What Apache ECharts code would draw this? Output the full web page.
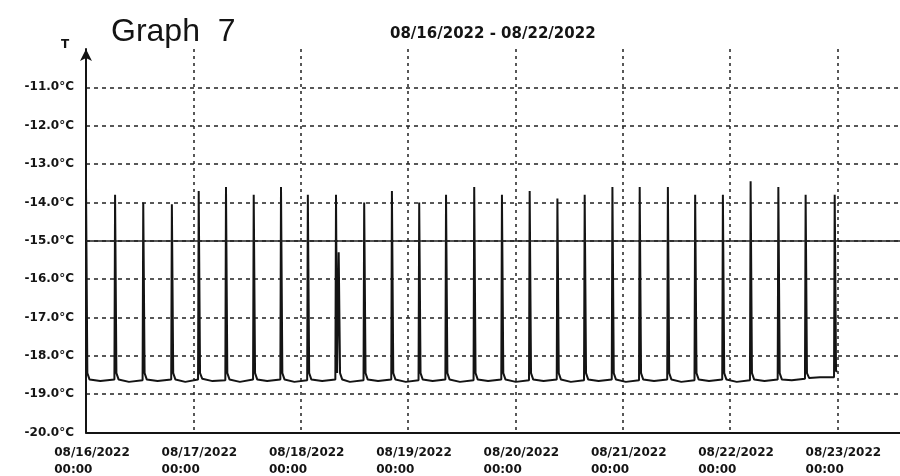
<!DOCTYPE html>
<html>
<head>
<meta charset="utf-8">
<script src="https://cdn.jsdelivr.net/npm/echarts@6/dist/echarts.min.js"></script>
<style>html,body{margin:0;padding:0;background:#fff;overflow:hidden;width:100%;height:100%}#c{position:fixed;left:0;top:0;width:100vw;height:100vh}</style>
</head>
<body>
<div id="c"></div>
<script>
const titleText = 'Graph  7';
const periodText = '08/16/2022 - 08/22/2022';
const xTickLabels = ['08/16/2022\n00:00','08/17/2022\n00:00','08/18/2022\n00:00','08/19/2022\n00:00','08/20/2022\n00:00','08/21/2022\n00:00','08/22/2022\n00:00','08/23/2022\n00:00'];
const yTickLabels = ['-20.0°C','-19.0°C','-18.0°C','-17.0°C','-16.0°C','-15.0°C','-14.0°C','-13.0°C','-12.0°C','-11.0°C'];
const limitTemp = -15;

// hours since 08/16/2022 00:00
const traceHours = [
  0.0, 0.3, 0.8, 3.2,
  6.35, 6.5, 6.8, 7.3, 9.6,
  12.65, 12.8, 13.1, 13.6, 16.0,
  19.05, 19.2, 19.5, 20.0, 22.2,
  25.05, 25.2, 25.5, 26.0, 28.3,
  31.15, 31.3, 31.6, 32.1, 34.4,
  37.35, 37.5, 37.8, 38.3, 40.5,
  43.45, 43.6, 43.9, 44.4, 46.6,
  49.45, 49.6, 49.9, 50.4, 52.8,
  55.75, 55.9, 56.15, 56.5, 56.8, 57.3, 59.0,
  62.05, 62.2, 62.5, 63.0, 65.3,
  68.25, 68.4, 68.7, 69.2, 71.5,
  74.35, 74.5, 74.8, 75.3, 77.5,
  80.35, 80.5, 80.8, 81.3, 83.6,
  86.65, 86.8, 87.1, 87.6, 89.9,
  92.85, 93.0, 93.3, 93.8, 96.1,
  99.05, 99.2, 99.5, 100.0, 102.3,
  105.25, 105.4, 105.7, 106.2, 108.4,
  111.35, 111.5, 111.8, 112.3, 114.6,
  117.55, 117.7, 118.0, 118.5, 120.7,
  123.65, 123.8, 124.1, 124.6, 127.0,
  129.95, 130.1, 130.4, 130.9, 133.1,
  136.05, 136.2, 136.5, 137.0, 139.3,
  142.25, 142.4, 142.7, 143.2, 145.5,
  148.45, 148.6, 148.9, 149.4, 151.7,
  154.65, 154.8, 155.1, 155.6, 157.8,
  160.75, 160.9, 161.2, 161.7, 164.1,
  167.25, 167.4, 167.7, 168.0
];
const traceTemps = [
  -13.5, -18.45, -18.62, -18.66,
  -18.62, -13.8, -18.45, -18.62, -18.68,
  -18.64, -14.0, -18.45, -18.62, -18.66,
  -18.62, -14.05, -18.45, -18.62, -18.68,
  -18.62, -13.7, -18.45, -18.6, -18.66,
  -18.64, -13.6, -18.45, -18.62, -18.68,
  -18.62, -13.8, -18.45, -18.62, -18.66,
  -18.62, -13.6, -18.45, -18.62, -18.68,
  -18.64, -13.8, -18.45, -18.62, -18.66,
  -18.62, -13.8, -18.45, -15.3, -18.45, -18.62, -18.68,
  -18.64, -14.0, -18.45, -18.62, -18.66,
  -18.62, -13.7, -18.45, -18.62, -18.68,
  -18.64, -14.0, -18.45, -18.62, -18.66,
  -18.62, -13.8, -18.45, -18.62, -18.68,
  -18.64, -13.6, -18.45, -18.62, -18.66,
  -18.62, -13.8, -18.45, -18.62, -18.68,
  -18.64, -13.7, -18.45, -18.62, -18.66,
  -18.62, -13.9, -18.45, -18.62, -18.68,
  -18.64, -13.8, -18.45, -18.62, -18.66,
  -18.62, -13.6, -18.45, -18.62, -18.68,
  -18.64, -13.6, -18.45, -18.62, -18.66,
  -18.62, -13.6, -18.45, -18.62, -18.68,
  -18.64, -13.8, -18.45, -18.62, -18.66,
  -18.62, -13.8, -18.45, -18.62, -18.68,
  -18.64, -13.45, -18.45, -18.62, -18.66,
  -18.62, -13.6, -18.45, -18.62, -18.64,
  -18.6, -13.8, -18.45, -18.58, -18.56,
  -18.56, -13.8, -18.4, -18.4
];

const seriesData = traceHours.map((h, i) => [h, traceTemps[i]]);
const ink = '#141414';
const chart = echarts.init(document.getElementById('c'), null, {renderer: 'canvas'});
chart.setOption({
  animation: false,
  backgroundColor: '#fff',
  title: [
    {text: titleText, left: 106, top: 11,
     textStyle: {fontFamily: 'Liberation Sans', fontSize: 32, fontWeight: 'normal', color: ink, lineHeight: 32}},
    {text: periodText, left: 385, top: 22,
     textStyle: {fontFamily: 'DejaVu Sans', fontSize: 15, fontWeight: 'bold', color: ink, lineHeight: 15}}
  ],
  grid: {left: 86, right: 0, top: 49, bottom: 39, containLabel: false},
  xAxis: {
    type: 'value', min: 0, max: 182, interval: 24,
    axisLine: {show: true, onZero: false, lineStyle: {color: ink, width: 2}},
    axisTick: {show: false},
    splitLine: {show: true, showMinLine: false, showMaxLine: false,
      lineStyle: {type: [3, 4], color: '#222', width: 1.5}},
    axisLabel: {
      showMaxLabel: false, margin: 12,
      padding: [0, 0, 0, 12],
      formatter: function (v) {
        const i = Math.round(v / 24);
        if (Math.abs(v - i * 24) > 1e-6 || i >= xTickLabels.length) return '';
        const parts = xTickLabels[i].split('\n');
        return '{a|' + parts[0] + '}\n{b|' + parts[1] + '}';
      },
      rich: {
        a: {fontFamily: 'DejaVu Sans', fontSize: 12, fontWeight: 'bold', color: ink, lineHeight: 17, align: 'left'},
        b: {fontFamily: 'DejaVu Sans', fontSize: 12, fontWeight: 'bold', color: ink, lineHeight: 17, align: 'left'}
      }
    }
  },
  yAxis: {
    type: 'value', min: -20, max: -10, interval: 1,
    name: 'T', nameLocation: 'end', nameGap: 4,
    nameTextStyle: {fontFamily: 'DejaVu Sans', fontSize: 12, fontWeight: 'bold', color: ink,
      padding: [0, 42, 0, 0], verticalAlign: 'middle'},
    axisLine: {show: true, onZero: false, lineStyle: {color: ink, width: 2},
      symbol: ['none', 'arrow'], symbolSize: [9, 12]},
    axisTick: {show: false},
    splitLine: {show: true, showMinLine: false, showMaxLine: false,
      lineStyle: {type: [4, 4], color: '#222', width: 1.5}},
    axisLabel: {
      showMaxLabel: false, margin: 12,
      fontFamily: 'DejaVu Sans', fontSize: 12, fontWeight: 'bold', color: ink,
      formatter: function (v) {
        const i = Math.round(v + 20);
        return (i >= 0 && i < yTickLabels.length) ? yTickLabels[i] : '';
      }
    }
  },
  series: [{
    type: 'line',
    data: seriesData,
    showSymbol: false,
    symbol: 'none',
    lineStyle: {color: ink, width: 2},
    markLine: {
      silent: true, symbol: ['none', 'none'],
      label: {show: false},
      lineStyle: {type: 'solid', color: '#222', width: 1.6},
      data: [{yAxis: limitTemp}]
    }
  }]
});
window.addEventListener('resize', () => chart.resize());
</script>
</body>
</html>
